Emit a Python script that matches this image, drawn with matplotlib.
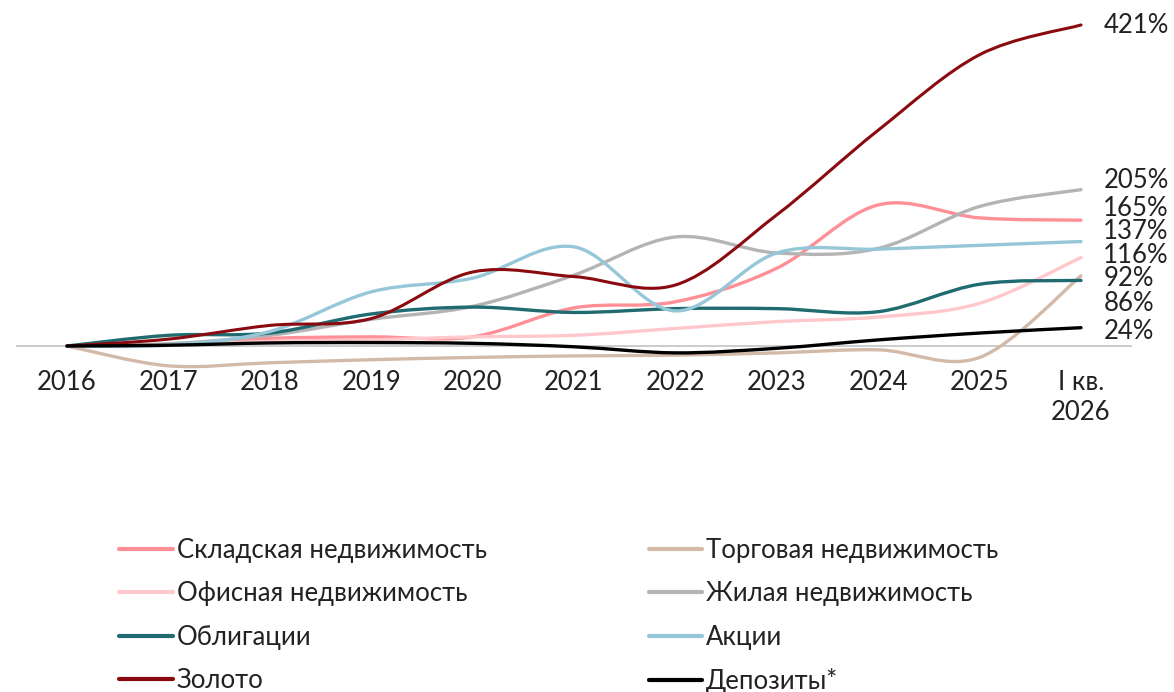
import matplotlib
matplotlib.use("Agg")
import matplotlib.pyplot as plt
from matplotlib.path import Path
from matplotlib.patches import PathPatch
from matplotlib.lines import Line2D

plt.rcParams["font.family"] = ["Lato", "DejaVu Sans"]

years = ["2016", "2017", "2018", "2019", "2020", "2021", "2022", "2023", "2024", "2025", "I кв.\n2026"]

warehouse = [0, 2, 10, 12, 12, 50, 58, 102, 185, 168, 165]
retail = [0, -26, -22, -18, -15, -13, -12, -9, -5, -15, 92]
office = [0, 1, 6, 8, 12, 14, 23, 32, 38, 56, 116]
residential = [0, 3, 14, 35, 52, 93, 143, 122, 128, 183, 205]
bonds = [0, 14, 17, 42, 51, 44, 49, 49, 45, 81, 86]
stocks = [0, 1, 19, 71, 89, 130, 46, 122, 127, 132, 137]
gold = [0, 9, 27, 36, 97, 91, 80, 172, 283, 382, 421]
deposits = [0, 1, 4, 4.5, 3.5, -1, -9, -3, 8, 17, 24]

names = ["Складская недвижимость", "Торговая недвижимость", "Офисная недвижимость",
         "Жилая недвижимость", "Облигации", "Акции", "Золото", "Депозиты*"]
series = [warehouse, retail, office, residential, bonds, stocks, gold, deposits]
colors = ["#FF8F97", "#D3BAA8", "#FFC8CD", "#B4B4B4", "#1F6B70", "#96C7D8", "#8B0A10", "#000000"]

end_labels = ["421%", "205%", "165%", "137%", "116%", "92%", "86%", "24%"]
end_label_y = [420, 217, 180, 149.5, 119, 89, 55.5, 18.5]

TEXT = "#222222"


def smooth_path(ys):
    # excel-like smoothing: catmull-rom segments as cubic bezier
    xs = list(range(len(ys)))
    pts = list(zip(xs, ys))
    verts = [pts[0]]
    codes = [Path.MOVETO]
    n = len(pts)
    for i in range(n - 1):
        p0 = pts[i - 1] if i > 0 else pts[i]
        p1 = pts[i]
        p2 = pts[i + 1]
        p3 = pts[i + 2] if i + 2 < n else pts[i + 1]
        c1 = (p1[0] + (p2[0] - p0[0]) / 6, p1[1] + (p2[1] - p0[1]) / 6)
        c2 = (p2[0] - (p3[0] - p1[0]) / 6, p2[1] - (p3[1] - p1[1]) / 6)
        verts += [c1, c2, p2]
        codes += [Path.CURVE4] * 3
    return Path(verts, codes)


fig = plt.figure(figsize=(11.74, 6.92), dpi=100)
ax = fig.add_axes([16.3 / 1174, 1 - 370.4 / 692, 1115.4 / 1174, 352.3 / 692])
ax.set_xlim(-0.5, 10.5)
ax.set_ylim(-32, 430)

ax.axhline(0, color="#C8C8C8", lw=1.3, zorder=1)

handles = []
for name, ys, c in zip(names, series, colors):
    lw = 2.4 if c != "#8B0A10" else 2.2
    ax.add_patch(PathPatch(smooth_path(ys), facecolor="none", edgecolor=c,
                           lw=lw, capstyle="round", zorder=2))
    handles.append(Line2D([], [], color=c, lw=3, solid_capstyle="round", label=name))

for txt, y in zip(end_labels, end_label_y):
    ax.text(10.22, y, txt, fontsize=18.5, va="center", ha="left", color=TEXT)

ax.set_xticks(range(len(years)))
ax.set_xticklabels(years, fontsize=18.5, color=TEXT, linespacing=1.25)
ax.tick_params(axis="x", length=0, pad=0)
ax.set_yticks([])
for s in ax.spines.values():
    s.set_visible(False)

order = [0, 2, 4, 6, 1, 3, 5, 7]
leg = fig.legend([handles[i] for i in order], [names[i] for i in order],
                 ncol=2, loc="upper left", bbox_to_anchor=(106 / 1174, 1 - 525 / 692),
                 frameon=False, fontsize=18.5, handlelength=2.1, handletextpad=0.15,
                 columnspacing=6.3, labelspacing=0.72, borderpad=0)
for t in leg.get_texts():
    t.set_color(TEXT)

fig.savefig("out.png", dpi=100)
